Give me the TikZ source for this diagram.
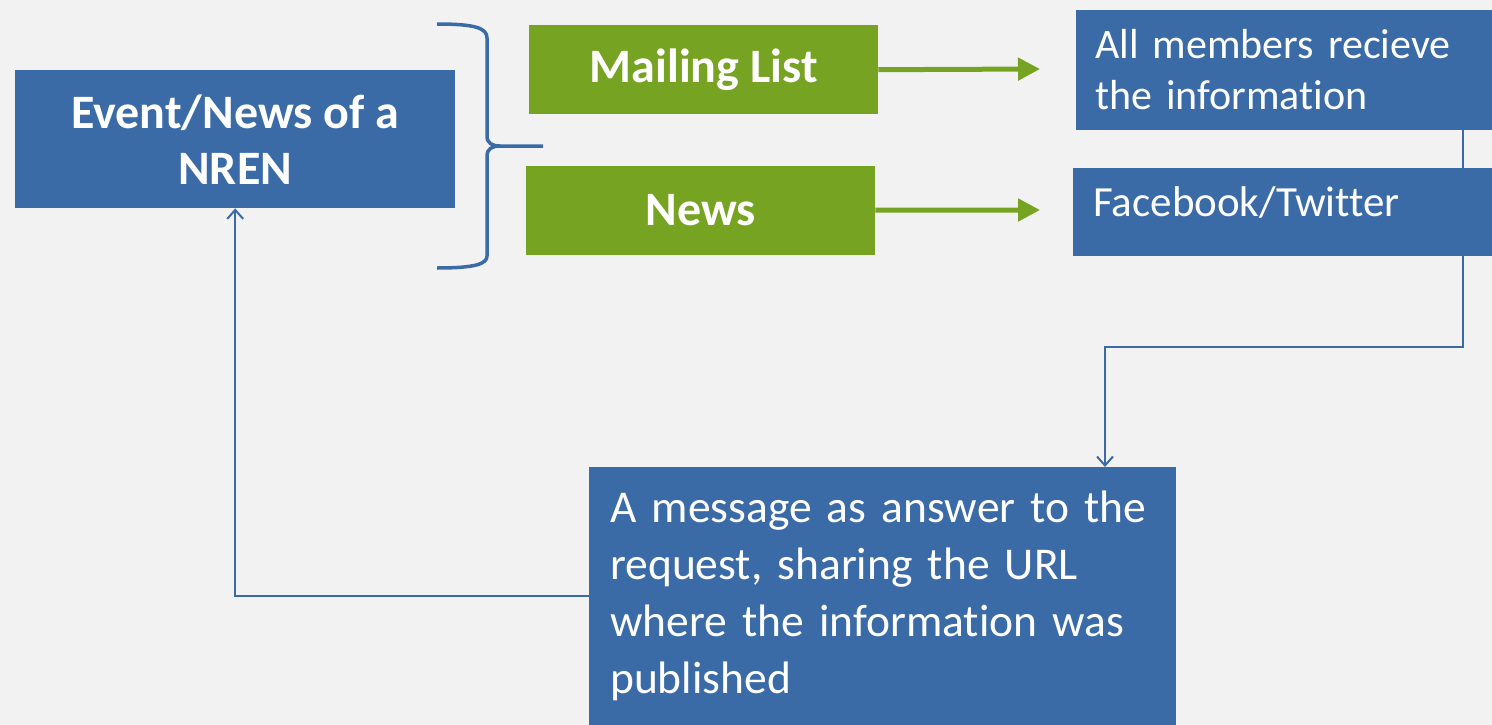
\documentclass[tikz,border=0pt]{standalone}
\usepackage{fontspec}
\setmainfont{Carlito}[Ligatures={NoCommon}]
\usetikzlibrary{arrows.meta,positioning,backgrounds}
\definecolor{nrenblue}{HTML}{3B6BA7}
\definecolor{nrengreen}{HTML}{76A322}
\definecolor{slidegray}{HTML}{F2F2F2}

\begin{document}
\begin{tikzpicture}[x=1pt,y=-1pt,
        bluebox/.style={
            rectangle, fill=nrenblue, text=white,
            inner sep=0pt, anchor=north west
        },
        greenbox/.style={
            rectangle, fill=nrengreen, text=white,
            inner sep=0pt, anchor=north west,
            minimum width=349pt, minimum height=89pt,
            font=\fontsize{48}{56}\selectfont\bfseries
        },
        greenarrow/.style={line width=5pt, draw=nrengreen, -{Triangle[length=22pt,width=22pt]}},
        bluearrow/.style={line width=2pt, draw=nrenblue, -{Straight Barb[length=9pt,width=16pt]}}
      ]

  \useasboundingbox (0,0) rectangle (1492,725);

  \node   (event) [bluebox,minimum width=440pt,minimum height=138pt,align=center,font=\fontsize{48}{56}\selectfont\bfseries] at (15,70) {Event/News of a\\NREN};

  \node   (mail) [greenbox] at (529,25) {Mailing List};
  \node   (news) [greenbox,below=51pt of mail.south west,xshift=-3pt,anchor=north west] {News};

  \node   (members) [bluebox,minimum width=416pt,inner xsep=19pt,text width=378pt,align=left,text height=48pt,text depth=72pt,font=\fontsize{42}{51}\selectfont] at (1076,10) {All members recieve\\the information};
  \node   (social) [bluebox,below=37pt of members.south west,xshift=-3pt,anchor=north west,minimum width=419pt,inner xsep=20pt,text width=379pt,align=left,text height=49pt,text depth=39pt,font=\fontsize{43}{51}\selectfont] {Facebook/Twitter};

  \node   (msg) [bluebox,minimum width=587pt,inner xsep=21pt,text width=545pt,align=left,text height=55pt,text depth=203pt,font=\fontsize{45.5}{57}\selectfont] at (589,467) {A message as answer to the\\request, sharing the URL\\where the information was\\published};

  % brace grouping the two channels
  \draw[nrenblue,line width=3.5pt] (437,24) .. controls (475,24) and (487,28) .. (487,38) -- (487,136)
        .. controls (487,143) and (492,146) .. (500,146) -- (543,146)
        (500,146) .. controls (492,146) and (487,149) .. (487,156) -- (487,256)
        .. controls (487,264) and (475,268) .. (437,268);

  \coordinate (mailtip) at (1040,69);
  \coordinate (newstip) at (1040,210);
  \draw[greenarrow] (mail.east) -- (mailtip);
  \draw[greenarrow] (news.east) -- (newstip);

  \coordinate (drop) at ([xshift=-29pt]members.south east);
  \coordinate (bend) at (1105,347);

  \begin{scope}[on background layer]
    \fill[slidegray] (0,0) rectangle (1492,725);
    \draw[bluearrow] (drop) |- (bend) -- (bend |- msg.north);
    \draw[bluearrow] (msg.west) -| (event.south);
  \end{scope}

\end{tikzpicture}
\end{document}
